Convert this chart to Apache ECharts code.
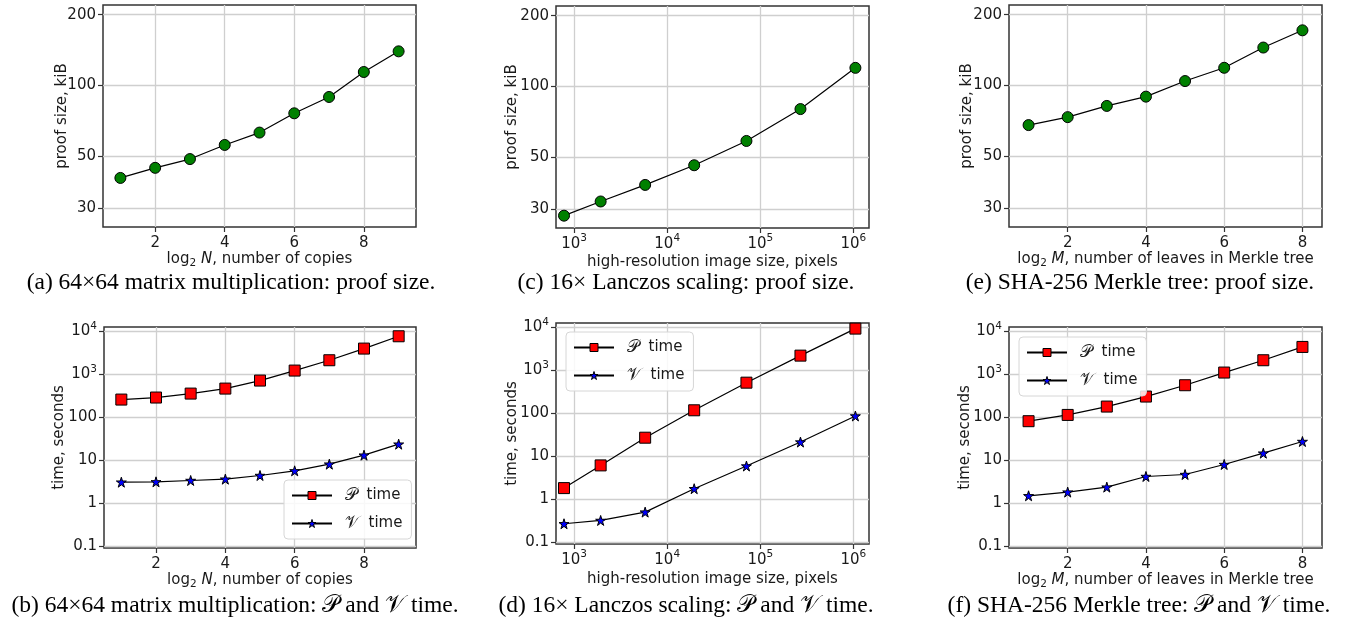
<!DOCTYPE html>
<html>
<head>
<meta charset="utf-8">
<script src="https://cdn.jsdelivr.net/npm/echarts@6/dist/echarts.min.js"></script>
<style>
  html, body { margin: 0; padding: 0; background: #fff; }
  #main { width: 1351px; height: 623px; }
</style>
</head>
<body>
<div id="main"></div>
<script>
// 横轴
const copiesLog2 = [1, 2, 3, 4, 5, 6, 7, 8, 9];
const imagePixels = [780, 1930, 5800, 19500, 71000, 270000, 1050000];
const leavesLog2 = [1, 2, 3, 4, 5, 6, 7, 8];

// (a)(b) 64x64 矩阵乘法
const matmulProof = [40.3, 44.5, 48.5, 55.7, 62.9, 76.0, 89.2, 114, 139.6];
const matmulProver = [262, 292, 361, 472, 725, 1239, 2155, 4024, 7790];
const matmulVerifier = [3.13, 3.19, 3.43, 3.68, 4.48, 5.75, 8.22, 13.3, 24.0];

// (c)(d) 16x Lanczos
const lanczosProof = [28.1, 32.3, 38.0, 46.1, 58.5, 80.0, 119.9];
const lanczosProver = [1.84, 6.21, 27.4, 119, 523, 2228, 9480];
const lanczosVerifier = [0.272, 0.325, 0.508, 1.78, 6.0, 21.7, 87.7];

// (e)(f) SHA-256 Merkle tree
const merkleProof = [67.7, 73.2, 81.7, 89.5, 104.3, 118.8, 144.9, 171.6];
const merkleProver = [82.2, 115, 180, 308, 565, 1114, 2155, 4400];
const merkleVerifier = [1.51, 1.84, 2.40, 4.25, 4.72, 8.07, 14.8, 27.7];

// 刻度
const sizeTicks = [30, 50, 100, 200];
const timeTicks = [0.1, 1, 10, 100, 1000, 10000];
const pixelTicks = [1000, 10000, 100000, 1000000];
const evenTicks = [2, 4, 6, 8];

const captions = [
    '(a) 64×64 matrix multiplication: proof size.',
    '(b) 64×64 matrix multiplication: 𝒫 and 𝒱 time.',
    '(c) 16× Lanczos scaling: proof size.',
    '(d) 16× Lanczos scaling: 𝒫 and 𝒱 time.',
    '(e) SHA-256 Merkle tree: proof size.',
    '(f) SHA-256 Merkle tree: 𝒫 and 𝒱 time.'
];

const FONT = 'DejaVu Sans';
const TEXT = '#1a1a1a';
const STAR = 'path://M0,-100 L22,-31 L95,-31 L36,12 L59,81 L0,38 L-59,81 L-36,12 L-95,-31 L-22,-31 Z';

const labelRich = {
    b: { fontFamily: FONT, fontSize: 15, color: TEXT, lineHeight: 22 },
    s: { fontFamily: FONT, fontSize: 10.5, color: TEXT, lineHeight: 10, verticalAlign: 'top' }
};
const nameRich = {
    t: { fontFamily: FONT, fontSize: 15, color: TEXT, lineHeight: 20 },
    it: { fontFamily: FONT, fontSize: 15, color: TEXT, lineHeight: 20, fontStyle: 'italic' },
    sub: { fontFamily: FONT, fontSize: 10.5, color: TEXT, lineHeight: 11, verticalAlign: 'bottom' }
};

const powFormatter = v => {
    const k = Math.round(Math.log10(v));
    if (k >= 3) return '{b|10}{s|' + k + '}';
    return '{b|' + (k < 0 ? '0.1' : String(Math.pow(10, k))) + '}';
};
const plainFormatter = v => '{b|' + Math.round(v) + '}';

// 六个子图的位置
const grids = [
    { left: 103, top: 5, width: 313, height: 222 },
    { left: 104, top: 327, width: 312, height: 221 },
    { left: 556, top: 6, width: 313, height: 222 },
    { left: 556, top: 323, width: 313, height: 221 },
    { left: 1009, top: 5, width: 313, height: 222 },
    { left: 1009, top: 327, width: 313, height: 221 }
];

const axisCommon = (gridIndex) => ({
    gridIndex,
    axisLine: { show: false },
    axisTick: { show: true, inside: false, length: 5, lineStyle: { color: '#333', width: 1.2 } },
    splitLine: { show: true, lineStyle: { color: '#cfcfcf', width: 1.3 } },
    nameLocation: 'middle'
});

const copiesName = '{t|log}{sub|2}{it| N}{t|, number of copies}';
const leavesName = '{t|log}{sub|2}{it| M}{t|, number of leaves in Merkle tree}';
const pixelName = '{t|high-resolution image size, pixels}';

const xDefs = [
    { type: 'value', min: 0.5, max: 9.5, ticks: evenTicks, name: copiesName, gap: 19, fmt: plainFormatter },
    { type: 'value', min: 0.5, max: 9.5, ticks: evenTicks, name: copiesName, gap: 19, fmt: plainFormatter },
    { type: 'log', min: 640, max: 1470000, ticks: pixelTicks, name: pixelName, gap: 24, fmt: powFormatter },
    { type: 'log', min: 640, max: 1470000, ticks: pixelTicks, name: pixelName, gap: 25, fmt: powFormatter },
    { type: 'value', min: 0.5, max: 8.5, ticks: evenTicks, name: leavesName, gap: 18, fmt: plainFormatter },
    { type: 'value', min: 0.5, max: 8.5, ticks: evenTicks, name: leavesName, gap: 19, fmt: plainFormatter }
];
const yDefs = [
    { min: 24.9, max: 220, ticks: sizeTicks, name: 'proof size, kiB', gap: 33, fmt: plainFormatter },
    { min: 0.092, max: 12800, ticks: timeTicks, name: 'time, seconds', gap: 37, fmt: powFormatter },
    { min: 24.9, max: 220, ticks: sizeTicks, name: 'proof size, kiB', gap: 36, fmt: plainFormatter },
    { min: 0.092, max: 12800, ticks: timeTicks, name: 'time, seconds', gap: 36, fmt: powFormatter },
    { min: 24.9, max: 220, ticks: sizeTicks, name: 'proof size, kiB', gap: 34, fmt: plainFormatter },
    { min: 0.092, max: 12800, ticks: timeTicks, name: 'time, seconds', gap: 36, fmt: powFormatter }
];

const xAxis = xDefs.map((d, i) => Object.assign(axisCommon(i), {
    type: d.type,
    position: 'bottom',
    min: d.min,
    max: d.max,
    name: d.name,
    nameGap: d.gap,
    nameTextStyle: { rich: nameRich },
    axisTick: Object.assign(axisCommon(i).axisTick, { customValues: d.ticks }),
    axisLabel: { customValues: d.ticks, margin: 5, formatter: d.fmt, rich: labelRich }
}));
const yAxis = yDefs.map((d, i) => Object.assign(axisCommon(i), {
    type: 'log',
    position: 'left',
    min: d.min,
    max: d.max,
    name: d.name,
    nameGap: d.gap,
    nameMoveOverlap: false,
    nameTextStyle: { fontFamily: FONT, fontSize: 15, color: TEXT },
    axisTick: Object.assign(axisCommon(i).axisTick, { customValues: d.ticks }),
    axisLabel: { customValues: d.ticks, margin: 7, formatter: d.fmt, rich: labelRich }
}));

const zip = (xs, ys) => xs.map((x, i) => [x, ys[i]]);

const proofStyle = { color: '#008000', borderColor: '#000', borderWidth: 1 };
const proverStyle = { color: '#ff0000', borderColor: '#000', borderWidth: 1 };
const verifierStyle = { color: '#0000ff', borderColor: '#000', borderWidth: 1 };

const proofSeries = (idx, xs, ys) => ({
    type: 'line',
    name: 'proof size',
    xAxisIndex: idx,
    yAxisIndex: idx,
    data: zip(xs, ys),
    symbol: 'circle',
    symbolSize: 11,
    itemStyle: proofStyle,
    lineStyle: { color: '#000', width: 1.2 }
});
const proverSeries = (idx, xs, ys) => ({
    type: 'line',
    name: 'P time',
    xAxisIndex: idx,
    yAxisIndex: idx,
    data: zip(xs, ys),
    symbol: 'rect',
    symbolSize: 11,
    itemStyle: proverStyle,
    lineStyle: { color: '#000', width: 1.2 }
});
const verifierSeries = (idx, xs, ys) => ({
    type: 'line',
    name: 'V time',
    xAxisIndex: idx,
    yAxisIndex: idx,
    data: zip(xs, ys),
    symbol: STAR,
    symbolSize: 10,
    itemStyle: verifierStyle,
    lineStyle: { color: '#000', width: 1.2 }
});

const series = [
    proofSeries(0, copiesLog2, matmulProof),
    proverSeries(1, copiesLog2, matmulProver),
    verifierSeries(1, copiesLog2, matmulVerifier),
    proofSeries(2, imagePixels, lanczosProof),
    proverSeries(3, imagePixels, lanczosProver),
    verifierSeries(3, imagePixels, lanczosVerifier),
    proofSeries(4, leavesLog2, merkleProof),
    proverSeries(5, leavesLog2, merkleProver),
    verifierSeries(5, leavesLog2, merkleVerifier)
];

// 图例
const legendPos = [[284, 480], [566, 332], [1019, 337]];
const legend = legendPos.map(p => ({
    data: [
        { name: 'P time', itemStyle: proverStyle },
        { name: 'V time', itemStyle: verifierStyle }
    ],
    orient: 'vertical',
    left: p[0],
    top: p[1],
    itemWidth: 40,
    itemHeight: 10,
    itemGap: 11,
    padding: [7, 9, 7, 7],
    backgroundColor: 'rgba(255,255,255,0.85)',
    borderColor: '#d6d6d6',
    borderWidth: 1,
    borderRadius: 4,
    selectedMode: false,
    formatter: name => '{c|' + (name === 'P time' ? '𝒫' : '𝒱') + '}{t|  time}',
    textStyle: {
        padding: [0, 0, 0, 8],
        rich: {
            c: { fontFamily: 'Liberation Serif', fontSize: 17, color: TEXT },
            t: { fontFamily: FONT, fontSize: 15, color: TEXT }
        }
    }
}));

// 子图标题
const captionPos = [[231, 283], [235, 606], [686, 283], [686, 606], [1140, 283], [1139, 606]];
const graphic = captions.map((c, i) => ({
    type: 'text',
    x: captionPos[i][0],
    y: captionPos[i][1],
    style: {
        text: c,
        fontFamily: 'Liberation Serif',
        fontSize: 23.5,
        fill: '#000',
        align: 'center',
        verticalAlign: 'middle'
    }
}));

const chart = echarts.init(document.getElementById('main'));
chart.setOption({
    animation: false,
    backgroundColor: '#fff',
    grid: grids.map(g => Object.assign({ show: true, borderColor: '#333', borderWidth: 1.5, backgroundColor: 'transparent' }, g)),
    xAxis,
    yAxis,
    legend,
    series,
    graphic
});
</script>
</body>
</html>
